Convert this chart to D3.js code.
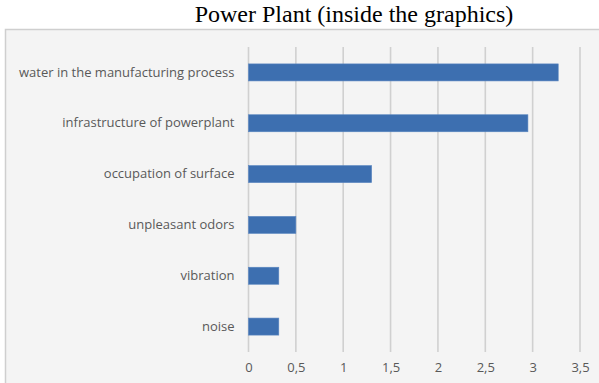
<!DOCTYPE html>
<html>
<head>
<meta charset="utf-8">
<script src="https://cdn.jsdelivr.net/npm/d3@7/dist/d3.min.js"></script>
<style>
  html, body { margin: 0; padding: 0; background: #ffffff; }
  svg { display: block; }
</style>
</head>
<body>
<script>
// Impact categories, top to bottom
const categories = [
  "water in the manufacturing process",
  "infrastructure of powerplant",
  "occupation of surface",
  "unpleasant odors",
  "vibration",
  "noise"
];
// Score for each category
const values = [3.27, 2.95, 1.30, 0.50, 0.32, 0.32];
// Value axis ticks and their labels
const tickValues = [0, 0.5, 1, 1.5, 2, 2.5, 3, 3.5];
const tickLabels = ["0", "0,5", "1", "1,5", "2", "2,5", "3", "3,5"];

const W = 599, H = 383;
const svg = d3.select("body").append("svg")
  .attr("width", W).attr("height", H);

// Title
svg.append("text")
  .attr("x", 354).attr("y", 22)
  .attr("text-anchor", "middle")
  .attr("font-family", "'Liberation Serif', 'Times New Roman', serif")
  .attr("font-size", 24)
  .attr("fill", "#000")
  .text("Power Plant (inside the graphics)");

// Chart area panel
svg.append("rect")
  .attr("x", 5.5).attr("y", 29.5)
  .attr("width", 620).attr("height", 380)
  .attr("fill", "#f4f4f4")
  .attr("stroke", "#cfcfcf")
  .attr("stroke-width", 1.5);

const plot = { left: 248.5, right: 580, top: 47, bottom: 352 };

const x = d3.scaleLinear()
  .domain([0, 3.5])
  .range([plot.left, plot.right]);

const y = d3.scaleBand()
  .domain(categories)
  .range([plot.top, plot.bottom])
  .paddingInner(0.665)
  .paddingOuter(0.3325);

// Vertical gridlines
svg.append("g")
  .selectAll("line")
  .data(tickValues)
  .join("line")
  .attr("x1", d => x(d)).attr("x2", d => x(d))
  .attr("y1", plot.top).attr("y2", plot.bottom)
  .attr("stroke", "#d0d0d0")
  .attr("stroke-width", 1.6);

// Bars
svg.append("g")
  .selectAll("rect")
  .data(categories)
  .join("rect")
  .attr("x", x(0))
  .attr("y", d => y(d))
  .attr("width", (d, i) => x(values[i]) - x(0))
  .attr("height", y.bandwidth())
  .attr("fill", "#3d6fb0")
  .attr("stroke", "#5a86c0")
  .attr("stroke-width", 0.6);

const labelFont = "'Open Sans', 'Noto Sans', sans-serif";

// Category axis labels
const yAxis = d3.axisLeft(y).tickSize(0).tickPadding(14);
const gy = svg.append("g")
  .attr("transform", `translate(${plot.left},0)`)
  .call(yAxis);
gy.select(".domain").remove();
gy.selectAll("text")
  .attr("font-family", labelFont)
  .attr("font-size", 13)
  .attr("fill", "#595959");

// Value axis labels
const xAxis = d3.axisBottom(x)
  .tickValues(tickValues)
  .tickFormat((d, i) => tickLabels[i])
  .tickSize(0)
  .tickPadding(11);
const gx = svg.append("g")
  .attr("transform", `translate(0,${plot.bottom})`)
  .call(xAxis);
gx.select(".domain").remove();
gx.selectAll("text")
  .attr("font-family", labelFont)
  .attr("font-size", 13)
  .attr("fill", "#595959");
</script>
</body>
</html>
